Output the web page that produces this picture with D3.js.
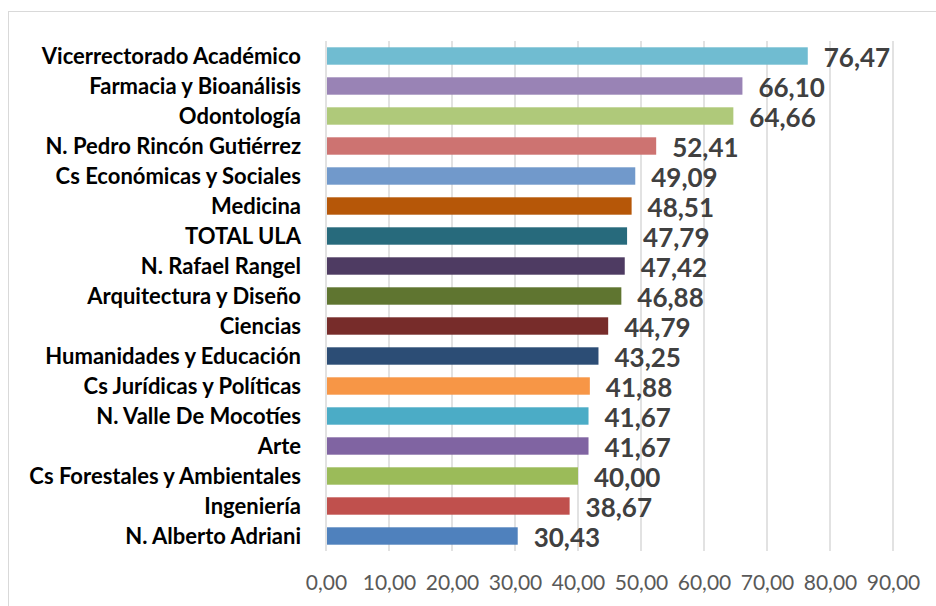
<!DOCTYPE html>
<html>
<head>
<meta charset="utf-8">
<script src="https://cdn.jsdelivr.net/npm/d3@7"></script>
<style>
  html, body { margin: 0; padding: 0; background: #fff; }
  svg { display: block; }
</style>
</head>
<body>
<div id="chart"></div>
<script>
// Categories top to bottom, their values and bar colours
const categories = ["Vicerrectorado Académico", "Farmacia y Bioanálisis", "Odontología",
  "N. Pedro Rincón Gutiérrez", "Cs Económicas y Sociales", "Medicina", "TOTAL ULA",
  "N. Rafael Rangel", "Arquitectura y Diseño", "Ciencias", "Humanidades y Educación",
  "Cs Jurídicas y Políticas", "N. Valle De Mocotíes", "Arte", "Cs Forestales y Ambientales",
  "Ingeniería", "N. Alberto Adriani"]
const values = [76.47, 66.10, 64.66, 52.41, 49.09, 48.51, 47.79, 47.42, 46.88, 44.79,
  43.25, 41.88, 41.67, 41.67, 40.00, 38.67, 30.43]
const colors = ["#70bcd1", "#9983b5", "#afc97a", "#cd7371", "#7199cb", "#b65708", "#276a7c",
  "#4e3b62", "#5f7530", "#772c2a", "#2c4d75", "#f79646", "#4bacc6", "#8064a2", "#9bbb59",
  "#c0504d", "#4f81bd"]
const xTicks = [0, 10, 20, 30, 40, 50, 60, 70, 80, 90]

const W = 936, H = 606
const fmt = v => v.toFixed(2).replace(".", ",")

const svg = d3.select("#chart").append("svg")
    .attr("width", W)
    .attr("height", H)
    .style("font-family", "Lato, 'Open Sans', sans-serif")

// chart frame
svg.append("rect")
    .attr("x", 8.5).attr("y", 11.5)
    .attr("width", W - 4).attr("height", H)
    .style("fill", "none")
    .style("stroke", "#d9d9d9")
    .style("stroke-width", 1)

const x = d3.scaleLinear().domain([0, 90]).range([326, 893])
const y = d3.scaleBand().domain(categories).range([41, 551]).paddingInner(0.42).paddingOuter(0.21)

// gridlines
svg.append("g")
    .selectAll("line")
    .data(xTicks).enter()
    .append("line")
    .attr("x1", d => x(d)).attr("x2", d => x(d))
    .attr("y1", 41).attr("y2", 551)
    .style("stroke", "#d9d9d9")
    .style("stroke-width", 1.5)

// bars
svg.append("g")
    .selectAll("rect")
    .data(values).enter()
    .append("rect")
    .attr("x", x(0) + 1)
    .attr("y", (d, i) => y(categories[i]))
    .attr("width", d => x(d) - x(0) - 1)
    .attr("height", y.bandwidth())
    .style("fill", (d, i) => colors[i])

// value labels
svg.append("g")
    .selectAll("text")
    .data(values).enter()
    .append("text")
    .attr("x", d => x(d) + 16)
    .attr("y", (d, i) => y(categories[i]) + y.bandwidth() / 2 + 2)
    .attr("dy", "0.35em")
    .style("font-size", "26px")
    .style("font-weight", "bold")
    .style("fill", "#404040")
    .text(fmt)

// category labels
svg.append("g")
    .selectAll("text")
    .data(categories).enter()
    .append("text")
    .attr("x", 301)
    .attr("y", d => y(d) + y.bandwidth() / 2 + 0.5)
    .attr("dy", "0.35em")
    .attr("text-anchor", "end")
    .style("font-size", "22px")
    .style("font-weight", "bold")
    .style("fill", "#000")
    .text(d => d)

// x axis tick labels
const xAxis = d3.axisBottom(x).tickValues(xTicks).tickFormat(fmt).tickSize(0).tickPadding(0)
const gx = svg.append("g")
    .attr("transform", "translate(0,590)")
    .call(xAxis)
gx.select(".domain").remove()
gx.selectAll("text")
    .attr("dy", 0)
    .style("font-family", "Lato, 'Open Sans', sans-serif")
    .style("font-size", "21px")
    .style("fill", "#595959")
</script>
</body>
</html>
